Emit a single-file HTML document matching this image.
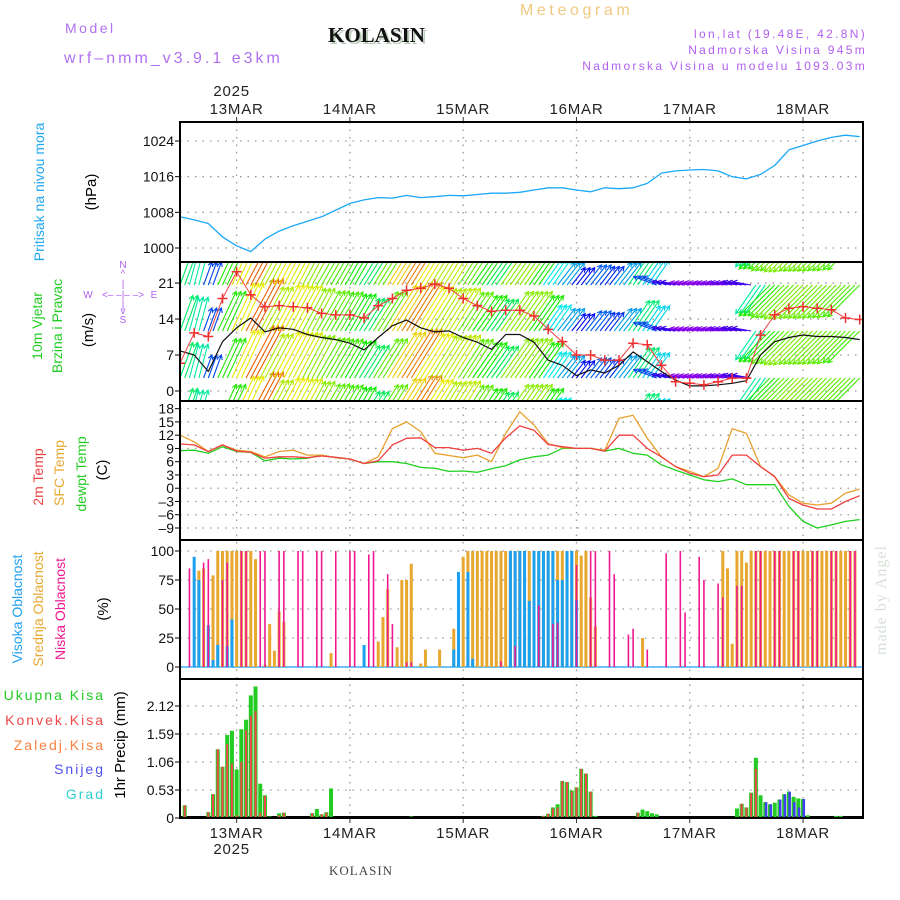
<!DOCTYPE html>
<html><head><meta charset="utf-8"><style>
html,body{margin:0;padding:0;background:#fff;}
svg{display:block;font-family:"Liberation Sans",sans-serif;}
</style></head><body>
<svg id="chart" width="900" height="900" viewBox="0 0 900 900" xmlns="http://www.w3.org/2000/svg">
<defs><clipPath id="cw"><rect x="180" y="262" width="683" height="139"/></clipPath>
<clipPath id="ca"><rect x="180" y="122" width="683" height="696"/></clipPath></defs>
<g id="header">
<text x="65" y="33" font-size="14" fill="#b070f0" letter-spacing="2.5">Model</text>
<text x="64" y="63" font-size="16" fill="#b070f0" letter-spacing="3">wrf–nmm_v3.9.1 e3km</text>
<text x="330" y="44" font-family="Liberation Serif,serif" font-weight="bold" font-size="21" fill="#b8ccb8">KOLASIN</text>
<text x="328" y="42" font-family="Liberation Serif,serif" font-weight="bold" font-size="21" fill="#111">KOLASIN</text>
<text x="520" y="15" font-size="16" fill="#f0c880" letter-spacing="3.6">Meteogram</text>
<text x="867" y="38" font-size="12" fill="#b060f0" letter-spacing="2.3" text-anchor="end">lon,lat (19.48E, 42.8N)</text>
<text x="867" y="54" font-size="12" fill="#b060f0" letter-spacing="2.3" text-anchor="end">Nadmorska Visina 945m</text>
<text x="867" y="70" font-size="12" fill="#b060f0" letter-spacing="2.3" text-anchor="end">Nadmorska Visina u modelu 1093.03m</text>
</g>
<g id="grid"></g>
<g id="marks"></g>
<g id="frames"></g>
<g id="labels">
<text transform="translate(44,192) rotate(-90)" text-anchor="middle" font-size="14" fill="#20a8f0">Pritisak na nivou mora</text>
<text transform="translate(96,192) rotate(-90)" text-anchor="middle" font-size="15" fill="#000">(hPa)</text>
<text transform="translate(42,326) rotate(-90)" text-anchor="middle" font-size="14" fill="#22cc22">10m Vjetar</text>
<text transform="translate(62,326) rotate(-90)" text-anchor="middle" font-size="14" fill="#22cc22">Brzina i Pravac</text>
<text transform="translate(93,330) rotate(-90)" text-anchor="middle" font-size="15" fill="#000">(m/s)</text>
<g font-size="10" fill="#b060f0" text-anchor="middle">
<text x="123" y="268">N</text><text x="123" y="277">^</text><text x="123" y="287">|</text>
<text x="88" y="298">W</text><text x="123" y="298">&lt;– –|– –&gt;</text><text x="154" y="298">E</text>
<text x="123" y="308">|</text><text x="123" y="314">v</text><text x="123" y="323">S</text></g>
<text transform="translate(43,477) rotate(-90)" text-anchor="middle" font-size="14" fill="#f04040">2m Temp</text>
<text transform="translate(64,473) rotate(-90)" text-anchor="middle" font-size="14" fill="#e8a830">SFC Temp</text>
<text transform="translate(86,474) rotate(-90)" text-anchor="middle" font-size="14" fill="#22cc22">dewpt Temp</text>
<text transform="translate(107,470) rotate(-90)" text-anchor="middle" font-size="15" fill="#000">(C)</text>
<text transform="translate(22,609) rotate(-90)" text-anchor="middle" font-size="14" fill="#20a0f0">Visoka Oblacnost</text>
<text transform="translate(43,609) rotate(-90)" text-anchor="middle" font-size="14" fill="#e8a830">Srednja Oblacnost</text>
<text transform="translate(65,609) rotate(-90)" text-anchor="middle" font-size="14" fill="#f01890">Niska Oblacnost</text>
<text transform="translate(108,609) rotate(-90)" text-anchor="middle" font-size="15" fill="#000">(%)</text>
<g font-size="14" text-anchor="end" letter-spacing="2">
<text x="105" y="700" fill="#22cc22">Ukupna  Kisa</text>
<text x="105" y="725" fill="#f04848">Konvek.Kisa</text>
<text x="105" y="750" fill="#f88040">Zaledj.Kisa</text>
<text x="105" y="774" fill="#5050f0">Snijeg</text>
<text x="105" y="799" fill="#30d0d0">Grad</text></g>
<text transform="translate(125,745) rotate(-90)" text-anchor="middle" font-size="15" fill="#000">1hr Precip (mm)</text>
<text x="329" y="875" font-family="Liberation Serif,serif" font-size="13" fill="#444" letter-spacing="1">KOLASIN</text>
<text transform="translate(886,600) rotate(-90)" text-anchor="middle" font-family="Liberation Serif,serif" font-size="16" fill="#d8e0d8" letter-spacing="1">made by Angel</text>
</g>
</svg>
<script>
const pressure=[1007,1006.3,1005.5,1002.5,1000.5,999.2,1002,1003.8,1005,1006,1007,1008.5,1010,1010.8,1011.3,1011.2,1011.8,1011.3,1011.5,1011.8,1011.7,1012,1012.3,1012.3,1012.5,1013,1013.5,1013.5,1013,1012.6,1013.5,1013.3,1013.5,1014.5,1016.8,1017.3,1017.5,1017.6,1017.3,1016,1015.5,1016.5,1018.5,1022,1023,1024,1024.8,1025.3,1025];
const windSpeed=[7.8,7,3.8,9.6,12.3,14.2,11.5,12.3,12,11,10.4,10,9.3,8,10.4,12.7,13.8,12.3,11.5,11.7,10.4,9.5,8.1,11,11,9.5,6,5,3,4.1,3.5,5,7.6,5.7,3.8,2.1,1,1,1.2,1.5,2,7,9.6,10.4,10.9,10.6,10.6,10.4,10];
const windGust=[5.4,11.3,10.6,18,23.2,18.7,16.4,16.6,16.4,16.2,15.1,14.8,14.8,14.2,16.6,18,19.6,20,20.8,20,18,16.6,15.5,15.7,15.7,14.6,12,9.6,7,7,6,6,9.3,9,5,1.8,1.5,1.2,1.8,2.5,2.5,10.9,14.8,16.1,16.4,16.1,15.8,14.2,13.9];
const windDir=[20,15,20,25,25,28,28,28,28,28,30,30,30,32,32,32,32,32,32,32,33,35,35,35,35,35,35,38,38,38,38,38,35,35,290,280,280,280,280,280,280,215,225,225,225,225,225,225,225];
const temp2m=[10,9.8,8.3,9.8,8.4,8.1,6.8,7.1,7.1,6.9,7.3,7,6.6,5.6,6.2,9.8,11.3,11.4,9.2,9.2,8.6,9,7.9,11.4,14.1,13.1,9.9,9.4,9,9,8.4,12,12,9,7.1,4.9,3.4,2.6,3,7.5,7.5,4.9,2.6,-2.3,-3.8,-4.7,-4.7,-3,-1.7];
const tempSfc=[12,10.5,8.3,9.8,8.6,8.3,7.1,8.3,8.6,7.5,7.5,6.9,6.6,5.6,7.1,13.5,15,12.8,7.9,7.4,6.9,7.5,6,12.4,17.3,14.3,10.1,9.2,9,9,8.6,15.8,16.5,11.3,7.1,4.9,3.8,2.6,4.5,13.5,12.4,4.9,2.6,-1.5,-3.4,-3.8,-3.4,-1.1,-0.2];
const tempDew=[8.5,8.6,7.9,9.4,8.3,8.1,6.2,6.8,6.6,6.8,7.5,6.9,6.6,5.6,6,6,5.6,4.7,4.5,3.8,3.9,3.6,4.4,5.1,6.4,7.1,7.5,9,9,9,8.4,9,7.9,7.5,5.3,4.1,3,1.9,1.5,2.1,0.8,0.8,0.8,-4.1,-7.5,-9,-8.3,-7.5,-7.1];
const cloudHigh=[0,0,0,95,75,0,36,6,19,0,
18,41,0,0,0,0,0,0,0,0,
0,0,0,0,0,0,0,0,0,0,
0,0,0,0,0,0,0,0,0,19,
0,0,0,0,0,0,0,0,0,0,
0,0,0,0,0,0,0,0,15,82,
0,82,7,0,0,0,0,0,0,0,
100,100,100,100,57,100,100,100,100,100,
75,75,100,100,58,0,0,0,0,0,
0,0,0,0,0,0,0,0,0,0,
0,0,0,0,0,0,0,0,0,0,
0,0,0,0,0,0,0,0,0,0,
0,0,0,0,0,0,0,0,0,0,
0,0,0,0,0,0,0,0,0,0,
0,0,0,0,0];
const cloudMid=[0,0,0,0,83,85,0,79,100,100,
100,100,100,100,100,100,93,0,2,37,
14,48,39,0,0,0,0,0,0,0,
0,0,12,0,0,0,0,0,0,0,
0,0,22,43,67,0,17,75,75,89,
0,3,15,0,0,15,0,0,33,80,
95,100,100,100,100,100,100,100,100,100,
100,100,100,100,100,100,100,100,100,100,
100,100,100,100,100,96,100,60,35,0,
0,0,0,0,0,0,0,0,25,0,
0,0,0,0,0,0,0,0,0,0,
0,0,0,0,0,100,85,20,100,100,
90,100,100,100,100,100,100,100,100,100,
100,100,100,100,100,100,100,100,100,100,
100,100,100,100,0];
const cloudLow=[0,0,85,0,0,90,93,0,0,75,
90,0,0,100,100,0,0,100,100,0,
0,100,100,0,0,100,100,0,0,100,
100,0,0,100,0,0,100,100,0,0,
97,100,0,0,80,37,0,0,4,4,
0,0,0,0,0,0,0,0,0,0,
0,0,0,0,0,0,0,0,5,0,
0,18,0,0,0,0,53,0,0,37,
38,0,0,0,88,0,0,100,100,0,
0,100,80,0,0,28,33,0,0,15,
0,0,0,98,0,0,100,47,0,0,
95,75,0,0,72,60,0,0,70,70,
0,0,100,100,0,0,100,100,0,0,
100,100,0,0,100,100,0,0,100,100,
0,0,100,100,0];
const precipTotal=[0,0.24,0,0,0,0,0.11,0.45,1.3,0.97,
1.57,1.65,0.92,1.68,1.86,2.32,2.49,0.65,0.43,0.03,
0,0.09,0.1,0,0,0,0,0,0.09,0.17,
0.07,0.11,0.56,0.02,0,0,0,0,0,0,
0,0,0,0,0,0,0,0,0,0.03,
0,0,0,0,0,0,0,0,0,0,
0,0,0,0,0,0,0,0,0,0,
0,0,0,0,0,0,0.02,0.04,0.08,0.2,
0.26,0.7,0.68,0.52,0.58,0.93,0.84,0.5,0.04,0,
0,0,0,0,0,0,0,0.1,0.16,0.13,
0.09,0.07,0,0,0,0,0,0,0,0,
0,0,0,0,0,0,0,0.01,0.18,0.27,
0.2,0.48,1.14,0.43,0.3,0.26,0.29,0.35,0.45,0.5,
0.4,0.37,0.36,0.05,0,0,0,0,0,0.04,
0.04,0,0,0,0];
const precipConv=[0,0.24,0,0,0,0,0.11,0.45,1.3,0.97,
1.4,1.03,0.05,1.06,1.66,1.93,2.02,0.1,0.42,0,
0,0.05,0.1,0,0,0,0,0,0.09,0,
0.07,0.1,0,0,0,0,0,0,0,0,
0,0,0,0,0,0,0,0,0,0,
0,0,0,0,0,0,0,0,0,0,
0,0,0,0,0,0,0,0,0,0,
0,0,0,0,0,0,0.02,0.04,0.08,0.18,
0.2,0.7,0.68,0.5,0.58,0.93,0.84,0.5,0,0,
0,0,0,0,0,0,0,0.1,0,0,
0,0,0,0,0,0,0,0,0,0,
0,0,0,0,0,0,0,0,0,0.27,
0.2,0.47,0.93,0,0,0,0,0,0,0,
0,0,0,0,0,0,0,0,0,0,
0,0,0,0,0];
const precipSnow=[0,0,0,0,0,0,0,0,0,0,
0,0,0,0,0,0,0,0,0,0,
0,0,0,0,0,0,0,0,0,0,
0,0,0,0,0,0,0,0,0,0,
0,0,0,0,0,0,0,0,0,0,
0,0,0,0,0,0,0,0,0,0,
0,0,0,0,0,0,0,0,0,0,
0,0,0,0,0,0,0,0,0,0,
0,0,0,0,0,0,0,0,0,0,
0,0,0,0,0,0,0,0,0,0,
0,0,0,0,0,0,0,0,0,0,
0,0,0,0,0,0,0,0,0,0,
0,0,0,0,0.3,0.26,0,0.35,0.45,0.5,
0.3,0.2,0.36,0,0,0,0,0,0,0,
0,0,0,0,0];
const dateLabels=["13MAR","14MAR","15MAR","16MAR","17MAR","18MAR"];
const pressureTicks=[1000,1008,1016,1024];
const windTicks=[0,7,14,21];
const tempTicks=[-9,-6,-3,0,3,6,9,12,15,18];
const cloudTicks=[0,25,50,75,100];
const precipTicks=[0,0.53,1.06,1.59,2.12];

const NS="http://www.w3.org/2000/svg";
const X0=180,X1=863,PXH=4.72;
const xH=h=>X0+h*PXH;
const xK=k=>xH(k*3);
const xDay=d=>xH(12+d*24);
const pY=p=>248-(p-1000)*4.458;
const wY=s=>391-s*5.14;
const tY=t=>528-(t+9)*4.42;
const cY=c=>667-c*1.16;
const rY=r=>818-r*52.83;
const panels=[[122,262],[262,401],[401,540],[540,679],[679,818]];
function mk(tag,attrs,parent){const e=document.createElementNS(NS,tag);for(const k in attrs)e.setAttribute(k,attrs[k]);parent.appendChild(e);return e;}
const grid=document.getElementById('grid'),marks=document.getElementById('marks'),frames=document.getElementById('frames'),labels=document.getElementById('labels');
const dot={stroke:"#999","stroke-width":1.3,"stroke-dasharray":"1.5 6"};
dateLabels.forEach((d,i)=>{
  const x=xDay(i);
  const l=mk('line',Object.assign({x1:x,x2:x,y1:122,y2:818},dot),grid);
  
  
  const t1=mk('text',{x:x,y:114,"text-anchor":"middle","font-size":15,"letter-spacing":0.8,fill:"#222"},labels);t1.textContent=d;
  
  
  const t2=mk('text',{x:x,y:838,"text-anchor":"middle","font-size":15,"letter-spacing":0.8,fill:"#222"},labels);t2.textContent=d;
  
  
  mk('line',{x1:x,x2:x,y1:117,y2:122,stroke:"#333"},frames);
  mk('line',{x1:x,x2:x,y1:818,y2:823,stroke:"#333"},frames);
});
[[96,'top-year-label'],[854,'bottom-year-label']].forEach(([y,n])=>{const t=mk('text',{x:xDay(0)-5,y:y,"text-anchor":"middle","font-size":15,"letter-spacing":0.8,fill:"#222"},labels);t.textContent="2025";
  
  });
function yaxis(ticks,fy,fmt,name){ticks.forEach(v=>{const y=fy(v);
  const g=mk('line',Object.assign({x1:X0,x2:X1,y1:y,y2:y},dot),grid);
  
  
  mk('line',{x1:X0-5,x2:X0,y1:y,y2:y,stroke:"#000"},frames);
  const t=mk('text',{x:174,y:y+5,"text-anchor":"end","font-size":14,fill:"#111"},labels);t.textContent=fmt(v);
  
  });}
yaxis(pressureTicks,pY,v=>String(v),'pressure');
yaxis(windTicks,wY,v=>String(v),'wind');
yaxis(tempTicks,tY,v=>(v<0?'–'+(-v):String(v)),'temp');
yaxis(cloudTicks,cY,v=>String(v),'cloud');
yaxis(precipTicks,rY,v=>String(v),'precip');
function poly(vals,fy,color,w,name,parent){const pts=vals.map((v,k)=>xK(k).toFixed(1)+","+fy(v).toFixed(1)).join(" ");
  const p=mk('polyline',{points:pts,fill:"none",stroke:color,"stroke-width":w,"stroke-linejoin":"round"},parent||marks);
  
  return p;}
poly(pressure,pY,"#1ca8f8",1.3,'pressure-line');
const wg=mk('g',{"clip-path":"url(#cw)"},marks);


function hue(s){let h=275-(s-1)*19;return Math.max(0,Math.min(275,h));}
const rows=[238,285,331,378,424];
for(let h=0;h<=144;h++){
  const k=Math.min(48,Math.round(h/3));
  const s=windSpeed[k],d=windDir[k]*Math.PI/180;
  const L=12+s*3.3,dx=L*Math.sin(d),dy=-L*Math.cos(d);
  const col="hsl("+hue(s)+",100%,46%)";
  const x=xH(h);
  rows.forEach(y0=>{
    const tx=x+dx,ty=y0+dy,a=Math.atan2(dy,dx);
    const hx1=tx-5*Math.cos(a-0.5),hy1=ty-5*Math.sin(a-0.5),hx2=tx-5*Math.cos(a+0.5),hy2=ty-5*Math.sin(a+0.5);
    mk('path',{d:`M${x.toFixed(1)},${y0}L${tx.toFixed(1)},${ty.toFixed(1)}M${hx1.toFixed(1)},${hy1.toFixed(1)}L${tx.toFixed(1)},${ty.toFixed(1)}L${hx2.toFixed(1)},${hy2.toFixed(1)}`,stroke:col,"stroke-width":1.1,fill:"none"},wg);
  });
}
const wl=mk('g',{"clip-path":"url(#cw)"},marks);
poly(windSpeed,wY,"#111",1.2,'wind-speed-line',wl);
poly(windGust,wY,"#f04040",1,'wind-gust-line',wl);
windGust.forEach((v,k)=>{const x=xK(k),y=wY(v);
  const m=mk('path',{d:`M${x-5},${y}h10M${x},${y-5}v10`,stroke:"#f03030","stroke-width":1.5},wl);
  
  });
poly(tempDew,tY,"#20d020",1.3,'dewpoint-line');
poly(tempSfc,tY,"#e8a030",1.3,'sfc-temp-line');
poly(temp2m,tY,"#f04040",1.3,'temp2m-line');
mk('line',{x1:X0,x2:X1,y1:cY(0),y2:cY(0),stroke:"#1ca0f0","stroke-width":1.2},marks);
for(let h=0;h<cloudMid.length;h++){const x=xH(h);
  if(cloudMid[h]>0){const r=mk('rect',{x:x-1.5,y:cY(cloudMid[h]),width:3,height:cY(0)-cY(cloudMid[h]),fill:"#e8a830"},marks);
    
    }
  if(cloudHigh[h]>0){const r=mk('rect',{x:x-1.5,y:cY(cloudHigh[h]),width:3,height:cY(0)-cY(cloudHigh[h]),fill:"#1ca0f0"},marks);
    
    }
  if(cloudLow[h]>0){const r=mk('rect',{x:x-0.8,y:cY(cloudLow[h]),width:1.6,height:cY(0)-cY(cloudLow[h]),fill:"#f01890"},marks);
    
    }
}
mk('line',{x1:X0,x2:X1,y1:817,y2:817,stroke:"#000","stroke-width":2},marks);
for(let h=0;h<precipTotal.length;h++){const x=xH(h);
  if(precipTotal[h]>0){const r=mk('rect',{x:x-2,y:rY(precipTotal[h]),width:4,height:rY(0)-rY(precipTotal[h]),fill:"#22cc22"},marks);
    
    }
  if(precipConv[h]>0){const r=mk('rect',{x:x-1,y:rY(precipConv[h]),width:2,height:rY(0)-rY(precipConv[h]),fill:"#f04848"},marks);
    
    }
  if(precipSnow[h]>0){const r=mk('rect',{x:x-0.5,y:rY(precipSnow[h]),width:2.5,height:rY(0)-rY(precipSnow[h]),fill:"#4040f0"},marks);
    
    }
}
panels.forEach(([a,b],i)=>{const r=mk('rect',{x:X0,y:a,width:X1-X0,height:b-a,fill:"none",stroke:"#000","stroke-width":2},frames);
  
  });
</script>
</body></html>
